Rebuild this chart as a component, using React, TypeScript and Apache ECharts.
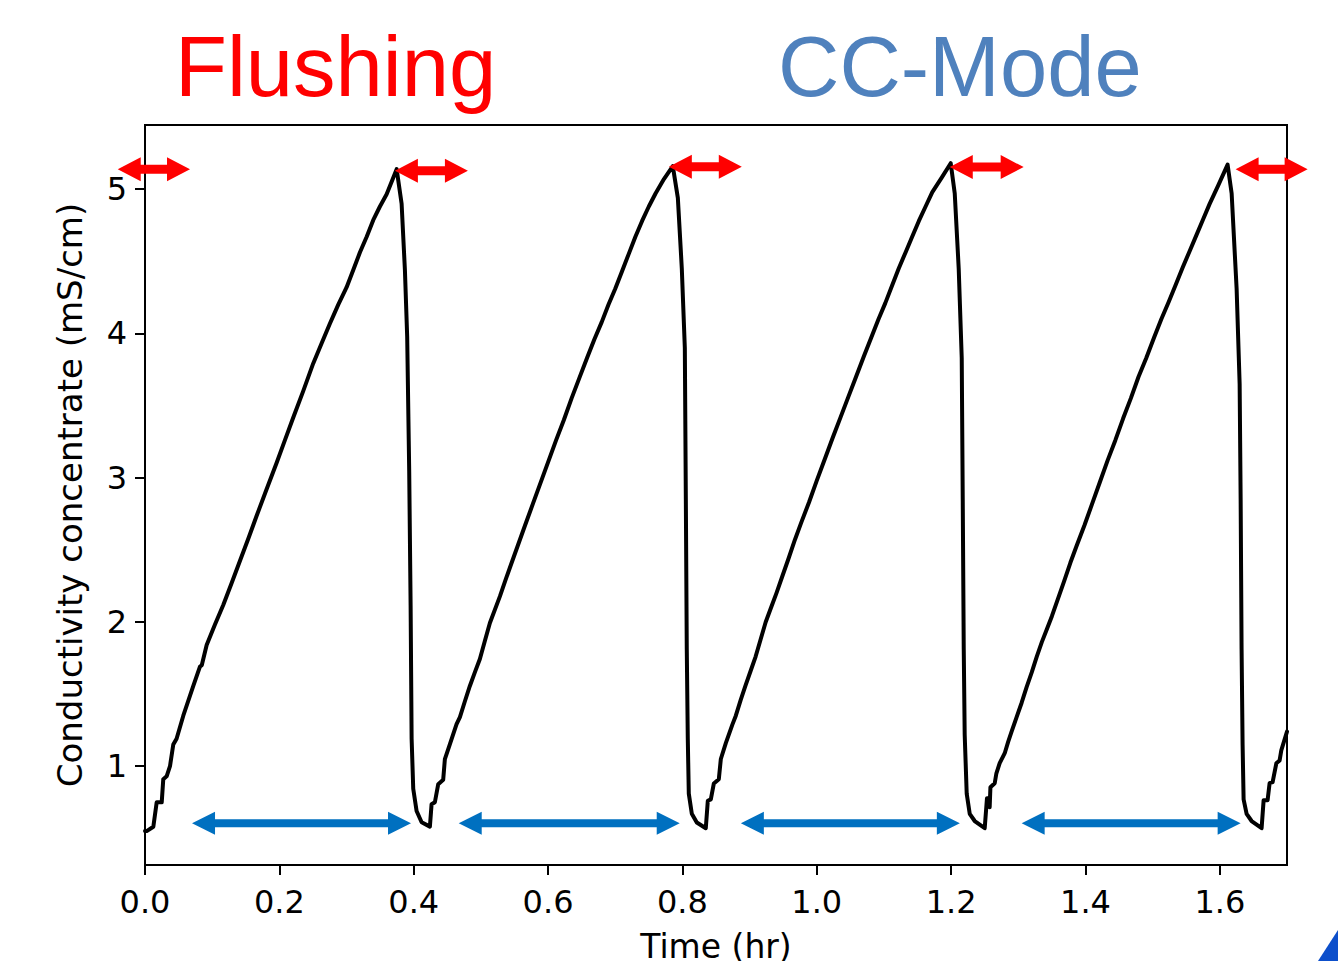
import React, { useEffect, useRef } from "react";
import * as echarts from "echarts";

// ---- data: [time (hr), conductivity (mS/cm)] ----
const ramp1: number[][] = [
  [0.0, 0.55], [0.0025, 0.55], [0.0124, 0.58], [0.0174, 0.75], [0.0249, 0.75], [0.0272, 0.91],
  [0.0322, 0.93], [0.0372, 1.0], [0.0421, 1.15], [0.047, 1.19], [0.057, 1.35], [0.0719, 1.556],
  [0.0818, 1.69], [0.0845, 1.7], [0.0918, 1.84], [0.1040, 1.98], [0.1165, 2.118], [0.129, 2.27],
  [0.1414, 2.424], [0.1540, 2.58], [0.1662, 2.736], [0.181, 2.92], [0.196, 3.104], [0.2083, 3.26],
  [0.2207, 3.417], [0.2355, 3.6], [0.2504, 3.792], [0.2628, 3.93], [0.2753, 4.069], [0.2877, 4.2],
  [0.3, 4.319], [0.31, 4.44], [0.32, 4.5625], [0.33, 4.67], [0.3397, 4.785], [0.3497, 4.88],
  [0.3597, 4.965], [0.3746, 5.139],
];
const drop1: number[][] = [
  [0.382, 4.899], [0.3869, 4.44], [0.3903, 3.975], [0.3933, 3.045], [0.3954, 2.115], [0.3969, 1.19],
  [0.3993, 0.844], [0.4043, 0.689], [0.4118, 0.611], [0.4241, 0.581],
];
const ramp2: number[][] = [
  [0.4266, 0.736], [0.4315, 0.75], [0.4365, 0.875], [0.4439, 0.906], [0.4464, 1.049], [0.4539, 1.153],
  [0.4638, 1.292], [0.4688, 1.34], [0.4762, 1.45], [0.4836, 1.556], [0.491, 1.65], [0.4985, 1.743],
  [0.506, 1.87], [0.5134, 1.993], [0.5283, 2.177], [0.5366, 2.29], [0.545, 2.4], [0.555, 2.53],
  [0.565, 2.66], [0.5775, 2.82], [0.59, 2.98], [0.601, 3.12], [0.612, 3.26], [0.6235, 3.4],
  [0.635, 3.55], [0.6465, 3.69], [0.658, 3.83], [0.669, 3.96], [0.68, 4.08], [0.69, 4.2],
  [0.7, 4.31], [0.71, 4.43], [0.72, 4.55], [0.73, 4.67], [0.74, 4.78], [0.75, 4.88], [0.76, 4.97],
  [0.7725, 5.07], [0.7857, 5.16],
];
const drop2: number[][] = [
  [0.7932, 4.94], [0.7991, 4.45], [0.8036, 3.9], [0.8051, 2.85], [0.8065, 1.81], [0.808, 1.19],
  [0.8095, 0.81], [0.814, 0.67], [0.8214, 0.61], [0.8348, 0.57],
];
const ramp3: number[][] = [
  [0.8378, 0.76], [0.8423, 0.77], [0.8468, 0.88], [0.8542, 0.91], [0.8572, 1.05], [0.8646, 1.16],
  [0.8745, 1.29], [0.8795, 1.35], [0.8868, 1.46], [0.894, 1.56], [0.9015, 1.66], [0.909, 1.76],
  [0.9165, 1.88], [0.924, 2.0], [0.932, 2.1], [0.94, 2.2], [0.949, 2.32], [0.958, 2.44],
  [0.9675, 2.57], [0.977, 2.69], [0.9885, 2.83], [1.0, 2.98], [1.012, 3.13], [1.024, 3.28],
  [1.0355, 3.42], [1.047, 3.56], [1.0585, 3.7], [1.07, 3.84], [1.081, 3.97], [1.092, 4.1],
  [1.102, 4.21], [1.112, 4.33], [1.122, 4.45], [1.132, 4.56], [1.142, 4.67], [1.152, 4.78],
  [1.162, 4.88], [1.172, 4.98], [1.186, 5.08], [1.1994, 5.18],
];
const drop3: number[][] = [
  [1.2054, 4.97], [1.2113, 4.45], [1.2158, 3.83], [1.2173, 2.85], [1.2188, 1.81], [1.2202, 1.22],
  [1.2232, 0.81], [1.2277, 0.67], [1.2351, 0.62], [1.25, 0.57],
];
const ramp4: number[][] = [
  [1.2534, 0.778], [1.2564, 0.778], [1.2574, 0.716], [1.2585, 0.854], [1.2649, 0.882], [1.2674, 0.951],
  [1.2723, 1.021], [1.2798, 1.09], [1.2850, 1.17], [1.29, 1.24], [1.2975, 1.34], [1.305, 1.44],
  [1.3125, 1.55], [1.32, 1.65], [1.3275, 1.76], [1.335, 1.86], [1.3425, 1.95], [1.35, 2.04],
  [1.359, 2.16], [1.368, 2.28], [1.3775, 2.41], [1.387, 2.53], [1.3985, 2.67], [1.41, 2.82],
  [1.4215, 2.97], [1.433, 3.12], [1.4445, 3.26], [1.456, 3.41], [1.4675, 3.55], [1.479, 3.7],
  [1.4905, 3.83], [1.502, 3.97], [1.513, 4.1], [1.524, 4.22], [1.5345, 4.34], [1.545, 4.46],
  [1.555, 4.57], [1.565, 4.68], [1.575, 4.79], [1.585, 4.9], [1.598, 5.03], [1.6116, 5.17],
];
const drop4: number[][] = [
  [1.6176, 4.97], [1.625, 4.31], [1.6295, 3.65], [1.631, 2.85], [1.6324, 1.81], [1.6339, 1.15],
  [1.6354, 0.77], [1.6399, 0.67], [1.6473, 0.62], [1.6622, 0.57],
];
const ramp5: number[][] = [
  [1.6652, 0.764], [1.6711, 0.764], [1.6741, 0.882], [1.6786, 0.89], [1.6841, 1.02], [1.689, 1.04],
  [1.6915, 1.11], [1.7, 1.24],
];

const xTicks = [0, 0.2, 0.4, 0.6, 0.8, 1.0, 1.2, 1.4, 1.6];
const yTicks = [1, 2, 3, 4, 5];

// annotation arrows (data units)
const redArrowStarts = [-0.0406, 0.372, 0.7798, 1.198, 1.6235];
const redArrowEnds = [0.067, 0.4807, 0.8884, 1.308, 1.7307];
const redArrowLevels = [5.139, 5.127, 5.155, 5.153, 5.139];
const blueArrowStarts = [0.07, 0.467, 0.887, 1.305];
const blueArrowEnds = [0.396, 0.796, 1.213, 1.631];
const blueArrowLevel = 0.605;

function arrowPoints(x1: number, x2: number, y: number, hl: number, hh: number, sh: number) {
  return [
    [x1, y], [x1 + hl, y - hh], [x1 + hl, y - sh], [x2 - hl, y - sh], [x2 - hl, y - hh],
    [x2, y], [x2 - hl, y + hh], [x2 - hl, y + sh], [x1 + hl, y + sh], [x1 + hl, y + hh],
  ];
}

export default function App() {
  const ref = useRef<HTMLDivElement>(null);
  useEffect(() => {
    if (!ref.current) return;
    const chart = echarts.init(ref.current, undefined, { renderer: "svg" });
    const allData = [
      ...ramp1, ...drop1, ...ramp2, ...drop2, ...ramp3, ...drop3, ...ramp4, ...drop4, ...ramp5,
    ];
    const axisFont = "DejaVu Sans";
    chart.setOption({
      animation: false,
      backgroundColor: "#fff",
      grid: {
        left: 145, right: 51, top: 125, bottom: 96,
        containLabel: false, outerBoundsMode: "none",
        show: true, borderColor: "#000", borderWidth: 2, backgroundColor: "transparent",
      },
      xAxis: {
        type: "value", min: 0, max: 1.7,
        name: "Time (hr)", nameLocation: "middle", nameGap: 65,
        nameTextStyle: { fontFamily: axisFont, fontSize: 33, color: "#000" },
        axisLine: { show: true, lineStyle: { color: "#000", width: 2 } },
        axisTick: { show: true, inside: false, length: 10, lineStyle: { color: "#000", width: 2 }, customValues: xTicks },
        axisLabel: {
          fontFamily: axisFont, fontSize: 32, color: "#000", margin: 21,
          customValues: xTicks, formatter: (v: number) => v.toFixed(1),
        },
        splitLine: { show: false },
      },
      yAxis: {
        type: "value", min: 0.315, max: 5.445,
        name: "Conductivity concentrate (mS/cm)", nameLocation: "middle", nameGap: 58,
        nameTextStyle: { fontFamily: axisFont, fontSize: 34, color: "#000" },
        axisLine: { show: true, lineStyle: { color: "#000", width: 2 } },
        axisTick: { show: true, inside: false, length: 10, lineStyle: { color: "#000", width: 2 }, customValues: yTicks },
        axisLabel: {
          fontFamily: axisFont, fontSize: 32, color: "#000", margin: 18,
          customValues: yTicks, formatter: (v: number) => String(v),
        },
        splitLine: { show: false },
      },
      series: [
        {
          type: "line", data: allData, showSymbol: false, symbol: "none",
          lineStyle: { color: "#000", width: 4, join: "round", cap: "round" }, clip: true, z: 3,
        },
      ],
    });

    const graphics: any[] = [];
    redArrowStarts.forEach((s, i) => {
      const p1 = chart.convertToPixel({ gridIndex: 0 }, [s, redArrowLevels[i]]) as number[];
      const p2 = chart.convertToPixel({ gridIndex: 0 }, [redArrowEnds[i], redArrowLevels[i]]) as number[];
      graphics.push({
        type: "polygon", z: 100,
        shape: { points: arrowPoints(p1[0], p2[0], p1[1], 23, 12, 4.5) },
        style: { fill: "#FF0000" },
      });
    });
    blueArrowStarts.forEach((s, i) => {
      const p1 = chart.convertToPixel({ gridIndex: 0 }, [s, blueArrowLevel]) as number[];
      const p2 = chart.convertToPixel({ gridIndex: 0 }, [blueArrowEnds[i], blueArrowLevel]) as number[];
      graphics.push({
        type: "polygon", z: 100,
        shape: { points: arrowPoints(p1[0], p2[0], p1[1], 23, 11.5, 4) },
        style: { fill: "#0070C0" },
      });
    });
    graphics.push({
      type: "text", left: 175, top: 24, z: 100,
      style: { text: "Flushing", fill: "#FF0000", font: "85px 'Liberation Sans', Arial, sans-serif" },
    });
    graphics.push({
      type: "text", left: 778, top: 24, z: 100,
      style: { text: "CC-Mode", fill: "#4F81BD", font: "85px 'Liberation Sans', Arial, sans-serif" },
    });
    graphics.push({
      type: "polygon", z: 100,
      shape: { points: [[1338, 930], [1318, 961], [1338, 961]] },
      style: { fill: "#0D4FCB" },
    });
    chart.setOption({ graphic: graphics });

    return () => chart.dispose();
  }, []);
  return (
    <div
      ref={ref}
      style={{ position: "fixed", left: 0, top: 0, width: 1338, height: 961, background: "#fff" }}
    />
  );
}
